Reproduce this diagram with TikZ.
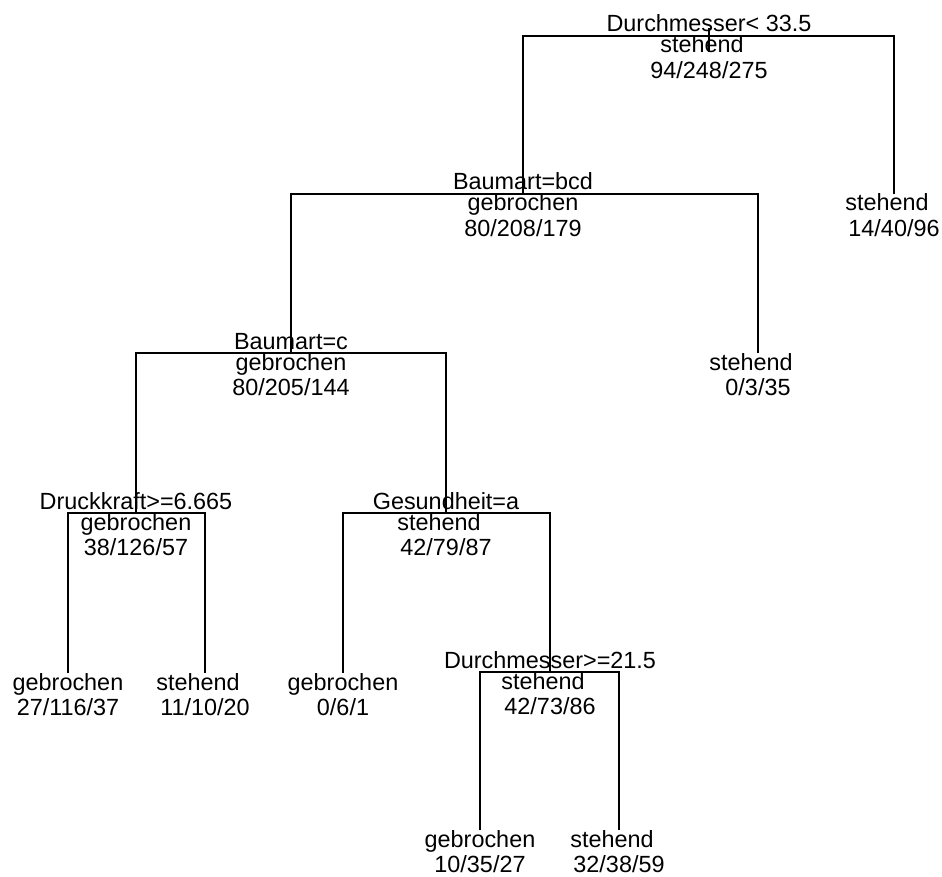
\documentclass[tikz,border=0pt]{standalone}
\usepackage{fontspec}
\setmainfont{Liberation Sans}

\begin{document}
\begin{tikzpicture}[
  x=1pt, y=-1pt,
  every node/.style={inner sep=0pt, anchor=base, font=\fontsize{23.4}{27}\selectfont},
  split/.style={yshift=4},
  cls/.style={yshift=-17},
  cnt/.style={yshift=-42.5},
  pad/.style={xshift=-7},
  br/.style={line width=1.2pt}
]
\useasboundingbox (0,0) rectangle (942,877);

% tree positions (split points and leaves)
\coordinate (root) at (709, 36);
\coordinate (bcd)  at (523, 194);
\coordinate (st1)  at (894, 194);
\coordinate (bc)   at (291, 353);
\coordinate (st2)  at (758, 353);
\coordinate (dk)   at (136, 513);
\coordinate (gs)   at (446, 513);
\coordinate (gb1)  at (68, 673);
\coordinate (st3)  at (205, 673);
\coordinate (gb2)  at (343, 673);
\coordinate (dm)   at (550, 672);
\coordinate (gb3)  at (480, 830);
\coordinate (st4)  at (619, 830);

% Branches
\draw[br] ([yshift=8]root) -- ([yshift=-16]root);
\draw[br] (bcd) |- (root) -| (st1);
\draw[br] (bc)  |- (bcd)  -| (st2);
\draw[br] (dk)  |- (bc)   -| (gs);
\draw[br] (gb1) |- (dk)   -| (st3);
\draw[br] (gb2) |- (gs)   -| (dm);
\draw[br] (gb3) |- (dm)   -| (st4);

% Splits
\node[split] (root-s) at (root) {Durchmesser< 33.5};
\node[cls, pad] (root-c) at (root) {stehend};
\node[cnt] (root-n) at (root) {94/248/275};

\node[split] (bcd-s) at (bcd) {Baumart=bcd};
\node[cls] (bcd-c) at (bcd) {gebrochen};
\node[cnt] (bcd-n) at (bcd) {80/208/179};

\node[split] (bc-s) at (bc) {Baumart=c};
\node[cls] (bc-c) at (bc) {gebrochen};
\node[cnt] (bc-n) at (bc) {80/205/144};

\node[split] (dk-s) at (dk) {Druckkraft>=6.665};
\node[cls] (dk-c) at (dk) {gebrochen};
\node[cnt] (dk-n) at (dk) {38/126/57};

\node[split] (gs-s) at (gs) {Gesundheit=a};
\node[cls, pad] (gs-c) at (gs) {stehend};
\node[cnt] (gs-n) at (gs) {42/79/87};

\node[split] (dm-s) at (dm) {Durchmesser>=21.5};
\node[cls, pad] (dm-c) at (dm) {stehend};
\node[cnt] (dm-n) at (dm) {42/73/86};

% Leaves
\node[cls, pad] (st1-c) at (st1) {stehend};
\node[cnt] (st1-n) at (st1) {14/40/96};

\node[cls, pad] (st2-c) at (st2) {stehend};
\node[cnt] (st2-n) at (st2) {0/3/35};

\node[cls] (gb1-c) at (gb1) {gebrochen};
\node[cnt] (gb1-n) at (gb1) {27/116/37};

\node[cls, pad] (st3-c) at (st3) {stehend};
\node[cnt] (st3-n) at (st3) {11/10/20};

\node[cls] (gb2-c) at (gb2) {gebrochen};
\node[cnt] (gb2-n) at (gb2) {0/6/1};

\node[cls] (gb3-c) at (gb3) {gebrochen};
\node[cnt] (gb3-n) at (gb3) {10/35/27};

\node[cls, pad] (st4-c) at (st4) {stehend};
\node[cnt] (st4-n) at (st4) {32/38/59};
\end{tikzpicture}
\end{document}
